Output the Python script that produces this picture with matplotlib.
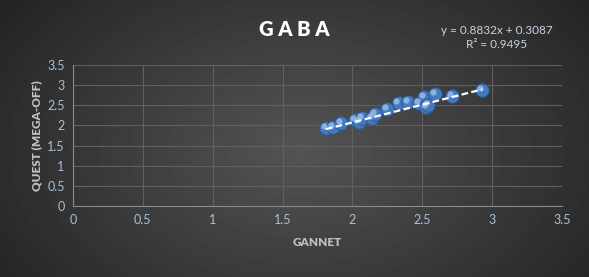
import numpy as np
import matplotlib
matplotlib.use("Agg")
import matplotlib.pyplot as plt

# data
gannet = [1.81, 1.86, 1.92, 2.02, 2.05, 2.07, 2.14, 2.16, 2.25, 2.33,
          2.40, 2.48, 2.51, 2.53, 2.54, 2.59, 2.71, 2.93]
quest = [1.93, 1.97, 2.07, 2.13, 2.09, 2.18, 2.18, 2.28, 2.40, 2.55,
         2.59, 2.55, 2.70, 2.46, 2.51, 2.78, 2.73, 2.88]
slope = 0.8832
intercept = 0.3087
r2 = 0.9495
ticks = [0, 0.5, 1, 1.5, 2, 2.5, 3, 3.5]

plt.rcParams['font.family'] = ['Lato', 'DejaVu Sans']

fig = plt.figure(figsize=(5.89, 2.77), dpi=100)

# dark radial background
bg = fig.add_axes([0, 0, 1, 1])
yy, xx = np.mgrid[0:277, 0:589]
r = np.sqrt(((xx - 300) / 330.0) ** 2 + ((yy - 150) / 220.0) ** 2)
shade = np.clip(0.33 - 0.17 * r, 0.14, 0.33)
bg.imshow(shade, cmap='gray', vmin=0, vmax=1, aspect='auto', extent=[0, 1, 0, 1])
bg.set_axis_off()

ax = fig.add_axes([73 / 589, 71 / 277, 489 / 589, 141 / 277])
ax.patch.set_alpha(0)
ax.set_xlim(0, 3.5)
ax.set_ylim(0, 3.5)
ax.set_xticks(ticks)
ax.set_yticks(ticks)
ax.set_xticklabels([f"{t:g}" for t in ticks])
ax.set_yticklabels([f"{t:g}" for t in ticks])
ax.grid(color='#606060', linewidth=0.8)
ax.set_axisbelow(True)
for s in ['top', 'right']:
    ax.spines[s].set_visible(False)
for s in ['left', 'bottom']:
    ax.spines[s].set_color('#8a8a8a')
ax.tick_params(length=0, colors='#a9bfd6', labelsize=9, pad=6)

# trend line
xs = np.array([min(gannet), max(gannet)])
ax.plot(xs, slope * xs + intercept, color='white', linestyle=(0, (3, 1.5)),
        linewidth=1.6, zorder=4)

# sphere-like markers
ax.scatter(gannet, quest, s=95, color='#4479bd', edgecolor='#2a5590',
           linewidth=0.6, zorder=3)
ax.scatter(np.array(gannet) - 0.015, np.array(quest) + 0.05, s=20,
           color='#9cc0ea', alpha=0.8, linewidth=0, zorder=3)

ax.set_xlabel('GANNET', color='#c0c0c0', fontsize=8.5, fontweight='heavy', labelpad=8)
ax.set_ylabel('QUEST (MEGA-OFF)', color='#c0c0c0', fontsize=8.5, fontweight='heavy', labelpad=4)

fig.text(294 / 589, 1 - 30 / 277, 'G A B A', color='white', fontsize=14.5,
         fontweight='heavy', ha='center', va='center')
fig.text(497 / 589, 1 - 30 / 277, f'y = {slope}x + {intercept}', color='#c8d4e0',
         fontsize=8.5, ha='center', va='center')
fig.text(497 / 589, 1 - 45 / 277, f'R² = {r2}', color='#c8d4e0',
         fontsize=8.5, ha='center', va='center')

fig.savefig('out.png', dpi=100)
